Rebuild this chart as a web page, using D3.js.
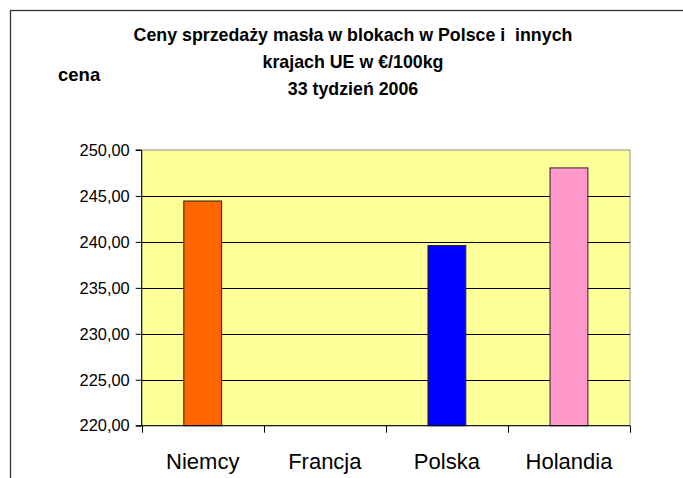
<!DOCTYPE html>
<html>
<head>
<meta charset="utf-8">
<script src="https://cdn.jsdelivr.net/npm/d3@7"></script>
<style>
  body { margin: 0; background: #fff; }
  svg { display: block; font-family: Arial, "Liberation Sans", sans-serif; }
</style>
</head>
<body>
<div id="chart"></div>
<script>
// data (Francja has no bar)
var countries = ["Niemcy", "Francja", "Polska", "Holandia"];
var prices = [244.45, null, 239.6, 248.05];
var barColors = ["#FF6600", "#FFFF99", "#0000FF", "#FF99CC"];
var yTicks = [220, 225, 230, 235, 240, 245, 250];
var titleLines = ["Ceny sprzedaży masła w blokach w Polsce i  innych", "krajach UE w €/100kg", "33 tydzień 2006"];

var svgWidth = 683;
var svgHeight = 478;

// plot area
var plot = { left: 141.7, top: 150, right: 630, bottom: 425.7 };

var svg = d3.select("#chart")
  .append("svg")
  .attr("width", svgWidth)
  .attr("height", svgHeight);

// outer chart frame (runs off right and bottom)
svg.append("rect")
  .attr("x", 10.5)
  .attr("y", 10.5)
  .attr("width", 720)
  .attr("height", 520)
  .attr("fill", "#fff")
  .attr("stroke", "#333")
  .attr("stroke-width", 1.3);

// scales
var xBand = d3.scaleBand()
  .domain(countries)
  .range([plot.left, plot.right])
  .padding(0);

var yScale = d3.scaleLinear()
  .domain([220, 250])
  .range([plot.bottom, plot.top]);

// plot background
svg.append("rect")
  .attr("x", plot.left)
  .attr("y", plot.top)
  .attr("width", plot.right - plot.left)
  .attr("height", plot.bottom - plot.top)
  .attr("fill", "#FFFF99")
  .attr("stroke", "#909090")
  .attr("stroke-width", 1);

// gridlines
svg.append("g")
  .selectAll("line")
  .data(yTicks.filter(d => d > 220 && d < 250))
  .enter()
  .append("line")
  .attr("x1", plot.left)
  .attr("x2", plot.right)
  .attr("y1", d => Math.round(yScale(d)) + 0.5)
  .attr("y2", d => Math.round(yScale(d)) + 0.5)
  .attr("stroke", "#000")
  .attr("stroke-width", 1);

// bars
var barW = xBand.bandwidth() * 0.31;
svg.append("g")
  .selectAll("rect")
  .data(countries.map((c, i) => ({ name: c, value: prices[i], color: barColors[i] })).filter(d => d.value != null))
  .enter()
  .append("rect")
  .attr("x", d => xBand(d.name) + (xBand.bandwidth() - barW) / 2)
  .attr("y", d => yScale(d.value))
  .attr("width", barW)
  .attr("height", d => yScale(220) - yScale(d.value))
  .attr("fill", d => d.color)
  .attr("stroke", "#222")
  .attr("stroke-width", 1);

// y axis
var leftAxis = d3.axisLeft(yScale)
  .tickValues(yTicks)
  .tickSize(6)
  .tickPadding(6)
  .tickFormat(d => d3.format(".2f")(d).replace(".", ","));

var yAxis = svg.append("g")
  .attr("transform", `translate(${plot.left}, 0)`)
  .call(leftAxis);
yAxis.select(".domain").attr("stroke", "#000").attr("d", `M-6,${plot.top}H0V${plot.bottom}H-6`);
yAxis.selectAll("text")
  .attr("font-size", "16.4px")
  .attr("fill", "#000")
  .attr("font-family", "Arial, 'Liberation Sans', sans-serif");

// x axis: ticks at band boundaries
var xAxis = svg.append("g");
xAxis.append("line")
  .attr("x1", plot.left)
  .attr("x2", plot.right)
  .attr("y1", plot.bottom)
  .attr("y2", plot.bottom)
  .attr("stroke", "#000");
xAxis.selectAll("line.tick")
  .data(countries.map(c => xBand(c)).concat([plot.right]))
  .enter()
  .append("line")
  .attr("class", "tick")
  .attr("x1", d => Math.round(d) + 0.5)
  .attr("x2", d => Math.round(d) + 0.5)
  .attr("y1", plot.bottom)
  .attr("y2", plot.bottom + 7)
  .attr("stroke", "#000");
xAxis.selectAll("text")
  .data(countries)
  .enter()
  .append("text")
  .attr("x", d => xBand(d) + xBand.bandwidth() / 2)
  .attr("y", 469)
  .attr("text-anchor", "middle")
  .attr("font-size", "22px")
  .text(d => d);

// title
var titleY = [41, 68, 95];
svg.append("g")
  .selectAll("text")
  .data(titleLines)
  .enter()
  .append("text")
  .attr("x", 353)
  .attr("y", (d, i) => titleY[i])
  .attr("text-anchor", "middle")
  .attr("font-size", "17.8px")
  .attr("font-weight", "bold")
  .style("white-space", "pre")
  .text(d => d);

// y axis title
svg.append("text")
  .attr("x", 58)
  .attr("y", 81)
  .attr("font-size", "18.5px")
  .attr("font-weight", "bold")
  .text("cena");
</script>
</body>
</html>
